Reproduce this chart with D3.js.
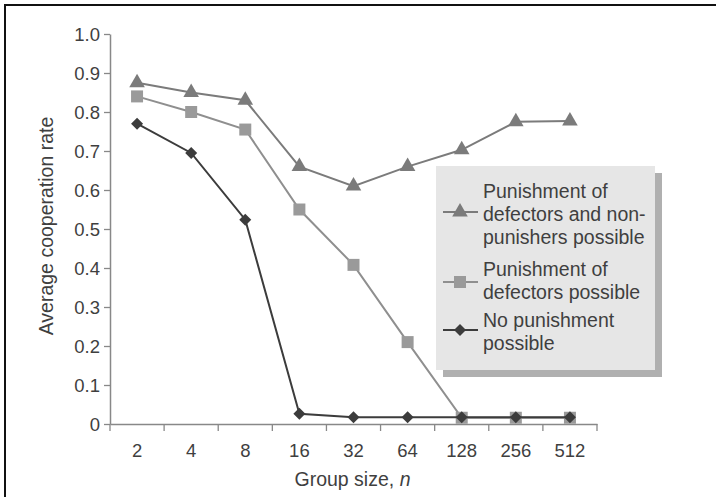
<!DOCTYPE html>
<html>
<head>
<meta charset="utf-8">
<script src="https://cdn.jsdelivr.net/npm/d3@7"></script>
<style>
  body { margin: 0; background: #fff; }
  svg { display: block; font-family: "Liberation Sans", Arial, sans-serif; }
  .tick text { fill: #3f3f3f; font-size: 18.5px; }
  .axisLb { fill: #3f3f3f; font-size: 19.5px; text-anchor: middle; }
  .legTx { fill: #3f3f3f; font-size: 19.5px; }
</style>
</head>
<body>
<div id="main"></div>
<script>
const ctx = {
    w: 716,
    h: 497,
    left: 110, right: 597, top: 34, bottom: 424,
};

// group sizes on the x axis
const groupSizes = ["2", "4", "8", "16", "32", "64", "128", "256", "512"];
const yTicks = [0, 0.1, 0.2, 0.3, 0.4, 0.5, 0.6, 0.7, 0.8, 0.9, 1.0];
// average cooperation rate per group size
const punishBoth = [0.875, 0.85, 0.83, 0.66, 0.61, 0.66, 0.703, 0.775, 0.777];
const punishDefectors = [0.84, 0.80, 0.755, 0.55, 0.408, 0.21, 0.016, 0.016, 0.016];
const noPunish = [0.77, 0.695, 0.524, 0.026, 0.017, 0.017, 0.017, 0.017, 0.017];
const seriesNames = [
    ["Punishment of", "defectors and non-", "punishers possible"],
    ["Punishment of", "defectors possible"],
    ["No punishment", "possible"],
];

const series = [
    {values: punishBoth, lines: seriesNames[0], color: "#7b7b7b", stroke: "#7b7b7b", shape: d3.symbolTriangle, size: 105, rot: 0},
    {values: punishDefectors, lines: seriesNames[1], color: "#9a9a9a", stroke: "#8f8f8f", shape: d3.symbolSquare, size: 144, rot: 0},
    {values: noPunish, lines: seriesNames[2], color: "#3c3c3c", stroke: "#3c3c3c", shape: d3.symbolSquare, size: 72, rot: 45},
];

function createViz(){
    let svgEl = d3.select("#main").append("svg")
        .attr("width", ctx.w)
        .attr("height", ctx.h);
    // frame (top and left edges visible)
    svgEl.append("rect")
        .attr("x", 5).attr("y", 5)
        .attr("width", ctx.w + 20).attr("height", ctx.h + 20)
        .attr("fill", "none").attr("stroke", "#111").attr("stroke-width", 2);

    ctx.xScale = d3.scaleBand().domain(groupSizes).range([ctx.left, ctx.right]);
    ctx.yScale = d3.scaleLinear().domain([0, 1]).range([ctx.bottom, ctx.top]);

    let bkgG = svgEl.append("g");
    // y axis
    let yAx = bkgG.append("g")
        .attr("transform", `translate(${ctx.left},0)`)
        .call(d3.axisLeft(ctx.yScale).tickValues(yTicks)
              .tickFormat((d) => d === 0 ? "0" : d3.format(".1f")(d))
              .tickSizeOuter(0).tickSizeInner(6).tickPadding(4));
    yAx.select(".domain").attr("stroke", "#888").attr("stroke-width", 1.5);
    yAx.selectAll(".tick line").attr("stroke", "#888").attr("stroke-width", 1.3);
    yAx.selectAll(".tick text").attr("dy", "0.36em");

    // x axis: labels centred on bands, ticks at band boundaries
    let xAx = bkgG.append("g")
        .attr("transform", `translate(0,${ctx.bottom})`)
        .call(d3.axisBottom(ctx.xScale).tickSize(0).tickPadding(20));
    xAx.select(".domain").attr("stroke", "#888").attr("stroke-width", 1.5);
    let bounds = groupSizes.map((g) => ctx.xScale(g)).concat([ctx.xScale.range()[1]]);
    xAx.selectAll("line.bound").data(bounds).enter().append("line")
        .attr("x1", (d) => d).attr("x2", (d) => d)
        .attr("y1", 0).attr("y2", 7)
        .attr("stroke", "#888").attr("stroke-width", 1.3);

    // axis labels
    let xl = bkgG.append("text")
        .classed("axisLb", true)
        .attr("x", (ctx.left + ctx.right) / 2 - 1)
        .attr("y", 486);
    xl.append("tspan").text("Group size, ");
    xl.append("tspan").attr("font-style", "italic").text("n");
    bkgG.append("text")
        .classed("axisLb", true)
        .attr("transform", `translate(53,226) rotate(-90)`)
        .text("Average cooperation rate");

    // series lines and markers
    let half = ctx.xScale.bandwidth() / 2;
    let line = d3.line()
        .x((d, i) => ctx.xScale(groupSizes[i]) + half)
        .y((d) => ctx.yScale(d));
    series.forEach((s) => {
        let g = svgEl.append("g");
        g.append("path")
            .attr("d", line(s.values))
            .attr("fill", "none")
            .attr("stroke", s.stroke)
            .attr("stroke-width", 2);
        g.selectAll("path.mk").data(s.values).enter().append("path")
            .attr("d", d3.symbol().type(s.shape).size(s.size))
            .attr("transform", (d, i) => `translate(${ctx.xScale(groupSizes[i]) + half},${ctx.yScale(d)}) rotate(${s.rot})`)
            .attr("fill", s.color);
    });

    // legend with drop shadow
    let legG = svgEl.append("g");
    legG.append("rect").attr("x", 443).attr("y", 173).attr("width", 219).attr("height", 204).attr("fill", "#b0b0b0");
    legG.append("rect").attr("x", 436).attr("y", 166).attr("width", 219).attr("height", 204).attr("fill", "#e6e6e6");
    const rowY = [212, 282, 330];
    const firstBase = [198, 276, 327];
    series.forEach((s, k) => {
        legG.append("line")
            .attr("x1", 443).attr("x2", 478)
            .attr("y1", rowY[k]).attr("y2", rowY[k])
            .attr("stroke", s.stroke).attr("stroke-width", 2);
        legG.append("path")
            .attr("d", d3.symbol().type(s.shape).size(s.size))
            .attr("transform", `translate(460,${rowY[k]}) rotate(${s.rot})`)
            .attr("fill", s.color);
        let t = legG.append("text").classed("legTx", true).attr("x", 483).attr("y", firstBase[k]);
        s.lines.forEach((ln, j) => {
            t.append("tspan").attr("x", 483).attr("dy", j === 0 ? 0 : 23).text(ln);
        });
    });
}

createViz();
</script>
</body>
</html>
